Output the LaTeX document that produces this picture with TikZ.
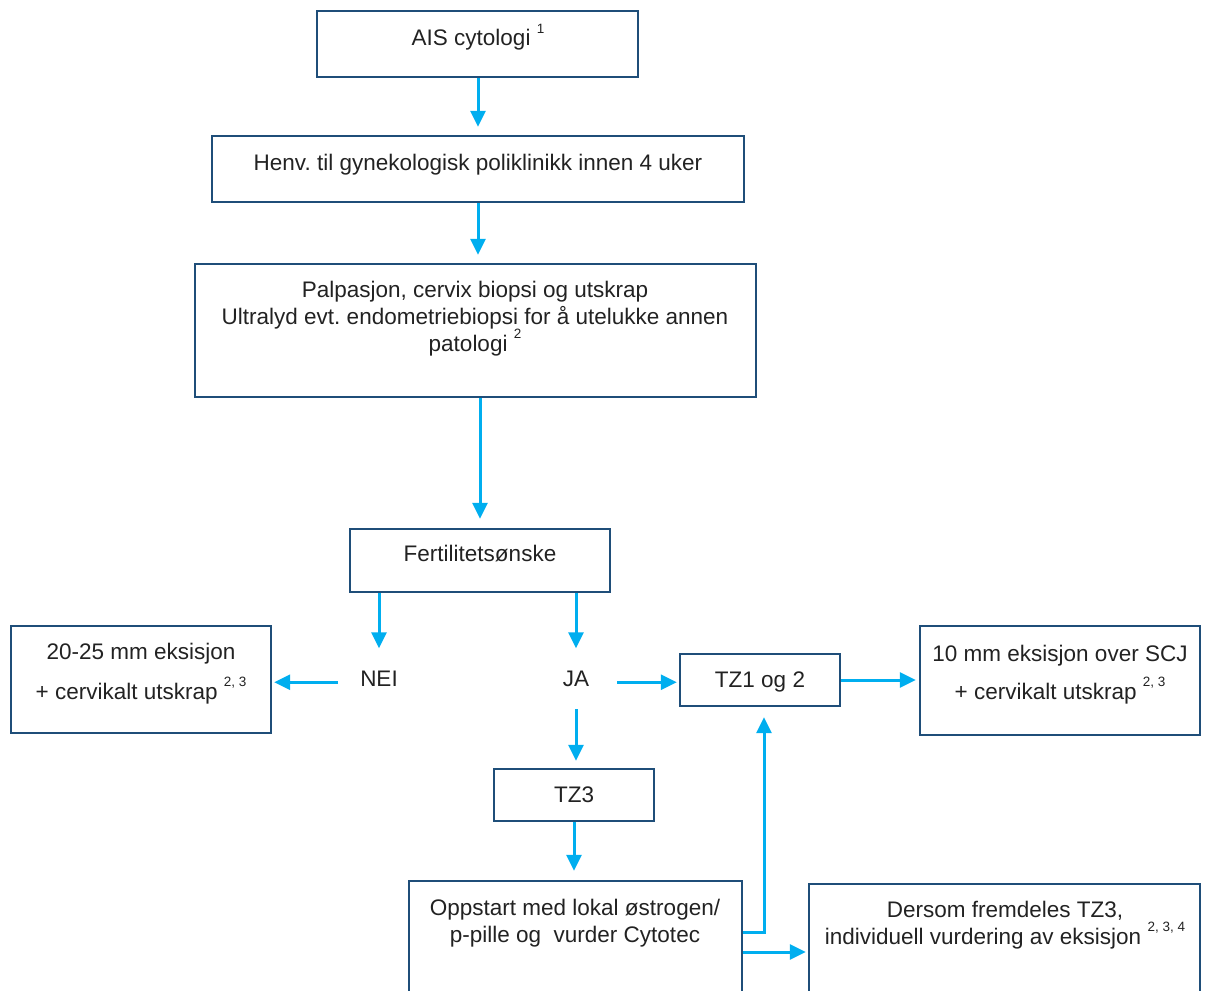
\documentclass[tikz,border=0pt]{standalone}
\usepackage{fontspec}
\setmainfont{Liberation Sans}
\usetikzlibrary{arrows.meta}
\frenchspacing
\definecolor{boxblue}{HTML}{1F4E79}
\definecolor{arrcyan}{HTML}{00AEEF}
\definecolor{txtgray}{HTML}{222222}
\newcommand\supnum[1]{\raisebox{0.55em}{\fontsize{13.5}{13.5}\selectfont #1}}
\begin{document}
\begin{tikzpicture}[x=1pt,y=-1pt,
  box/.style={draw=boxblue, line width=2.4pt, inner sep=0pt},
  txt/.style={font=\fontsize{22.5}{27}\selectfont\frenchspacing, text=txtgray, align=center, inner sep=0pt, anchor=base},
  arr/.style={draw=arrcyan, line width=3pt, -{Triangle[length=16pt,width=15pt]}},
]
\useasboundingbox (0,0) rectangle (1209,990);
\clip (0,0) rectangle (1209,990);

% boxes
\node[box, minimum width=321pt, minimum height=66pt]  (ais)   at (477.5,44)  {};
\node[box, minimum width=532pt, minimum height=66pt]  (henv)  at (478,169)   {};
\node[box, minimum width=561pt, minimum height=133pt] (palp)  at (475.5,330.5) {};
\node[box, minimum width=260pt, minimum height=63pt]  (fert)  at (480,560.5) {};
\node[box, minimum width=260pt, minimum height=107pt] (left)  at (141,679.5) {};
\node[box, minimum width=160pt, minimum height=52pt]  (tz1)   at (760,680)   {};
\node[box, minimum width=280pt, minimum height=109pt] (right) at (1060,680.5) {};
\node[box, minimum width=160pt, minimum height=52pt]  (tz3)   at (574,795)   {};
\node[box, minimum width=333pt, minimum height=139pt] (opp)   at (575.5,950.5) {};
\node[box, minimum width=391pt, minimum height=136pt] (ders)  at (1004.5,952) {};

% texts (base anchor of a multi-line node = last line)
\node[txt] (aist)  at (478,46)  {AIS cytologi \supnum{1}};
\node[txt] (henvt) at (478,170) {Henv. til gynekologisk poliklinikk innen 4 uker};
\node[txt] (palpt) at (475,351) {Palpasjon, cervix biopsi og utskrap\\Ultralyd evt. endometriebiopsi for å utelukke annen\\patologi \supnum{2}};
\node[txt] (fertt) at (480,561) {Fertilitetsønske};
\node[txt] (leftt) at (141,699) {20-25 mm eksisjon\\[13pt]+ cervikalt utskrap \supnum{2, 3}};
\node[txt, text depth=8pt] (nei) at (379,686) {NEI};
\node[txt, text depth=8pt] (ja)  at (576,686) {JA};
\node[txt] (tz1t)  at (760,687) {TZ1 og 2};
\node[txt] (rightt) at (1060,699) {10 mm eksisjon over SCJ\\[11pt]+ cervikalt utskrap \supnum{2, 3}};
\node[txt] (tz3t)  at (574,802) {TZ3};
\node[txt] (oppt)  at (575,942) {Oppstart med lokal østrogen/\\p-pille og\ \ vurder Cytotec};
\node[txt] (derst) at (1005,944) {Dersom fremdeles TZ3,\\individuell vurdering av eksisjon \supnum{2, 3, 4}};

% connectors
\coordinate (bend) at (764,932);
\coordinate (oy) at (775,952);
\draw[arr, shorten >=8pt] (ais.south -| henv.north) -- (henv.north);
\draw[arr, shorten >=8pt] (henv.south) -- (henv.south |- palp.north);
\draw[arr, shorten >=9pt] (fert.north |- palp.south) -- (fert.north);
\draw[arr, shorten >=22pt] (nei.north |- fert.south) -- (nei.north);
\draw[arr, shorten >=22pt] (ja.north |- fert.south) -- (ja.north);
\draw[arr, shorten <=22pt, shorten >=2pt] (nei.west) -- (left.east |- nei.west);
\draw[arr, shorten <=28pt, shorten >=2pt] (ja.east) -- (tz1.west |- ja.east);
\draw[arr, shorten >=3pt] (tz1.east) -- (right.west |- tz1.east);
\draw[arr, shorten <=15pt, shorten >=7pt] (ja.south) -- (ja.south |- tz3.north);
\draw[arr, shorten >=9pt] (tz3.south) -- (tz3.south |- opp.north);
\draw[arr, shorten >=10pt] (opp.east |- bend) -- (bend) -- (bend |- tz1.south);
\draw[arr, shorten >=2pt] (opp.east |- oy) -- (ders.west |- oy);
\end{tikzpicture}
\end{document}
